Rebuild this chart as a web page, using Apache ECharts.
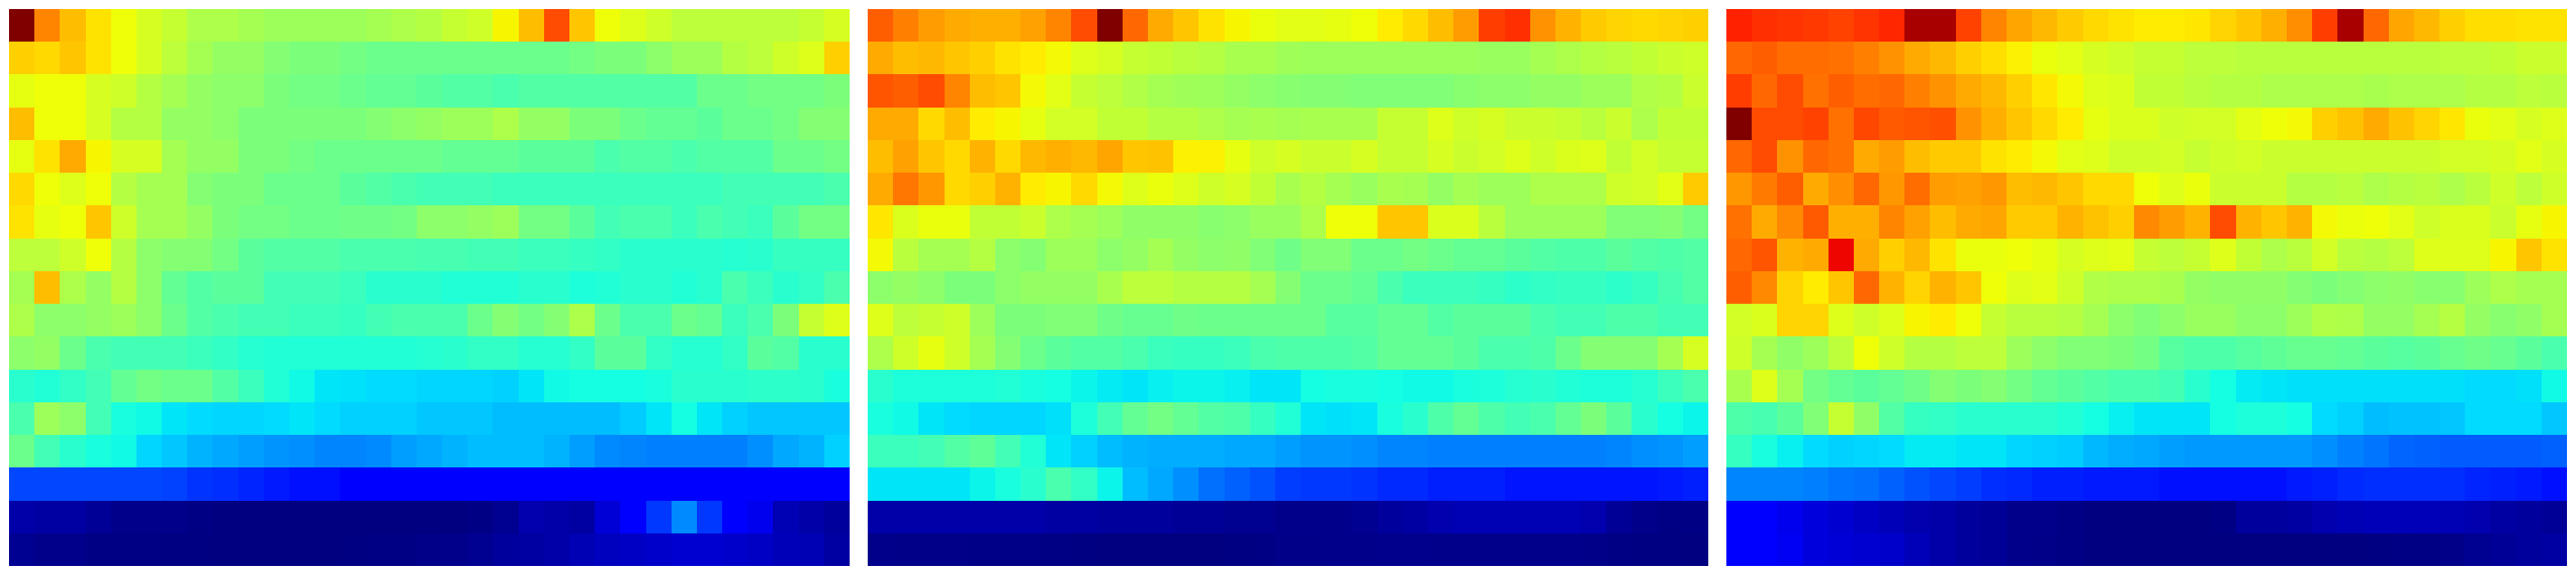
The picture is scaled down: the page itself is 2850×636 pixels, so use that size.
<!DOCTYPE html>
<html><head><meta charset="utf-8">
<style>html,body{margin:0;padding:0;background:#fff}#c{width:2850px;height:636px}</style>
<script src="https://cdn.jsdelivr.net/npm/echarts@6/dist/echarts.min.js"></script>
</head><body><div id="c"></div>
<script>
const panelA = [
[100,77,71,67,64,61,59,56,56,55,54,54,54,54,55,56,57,59,60,65,71,83,70,64,62,60,58,58,58,58,58,59,61],
[69,68,70,67,64,61,58,55,53,53,51,50,50,49,48,48,48,48,48,48,48,48,49,50,50,52,54,54,57,58,60,62,69],
[63,64,64,61,60,57,55,53,52,52,50,49,49,48,47,47,46,45,45,44,45,45,45,45,45,45,45,48,48,49,49,49,50],
[71,64,64,61,57,57,53,53,52,50,50,50,50,50,51,52,53,54,54,56,53,53,50,50,48,47,47,46,48,48,49,51,51],
[63,67,73,65,61,61,55,53,53,50,50,49,48,48,48,48,48,47,47,47,46,46,46,44,45,45,44,45,45,45,48,48,49],
[68,64,62,64,57,55,55,51,50,50,48,48,48,46,45,44,43,43,43,42,42,42,42,42,42,42,42,42,43,43,43,43,44],
[67,63,64,70,60,55,55,53,50,49,49,48,48,48.5,48.5,49,52,52,53,54,49,49,46,43,44,44,42,44,43,42,46,49,49],
[58,58,60,64,57,52,51,51,49,46,45,45,45,44,44,44,43.5,43.5,43,43,42,42,41.5,41,40,40,40,40,39.5,40,41.5,41.5,41.5],
[55,71,56,53,57,52,47,45,46,46,43,43,43,42,40,40,40,39,39,39,40,40,38.5,39,40,40,39,40,44,42,40,41,44],
[56,52,52,53,54,52,48,45,44,43,43,42,42,41.5,43,44,44,44,48,51,49,51,56,48,44,44,48,47,42,44,50,59,62],
[52,53,48,44,43,43,43,42,41,39.5,39,39,39,39,39,39,39.5,40,41,41,39.5,39.5,41,46,46,41,39.5,39.5,41,46,45,40,40],
[40,39,41,43,47,49,48,48,45,42,39,37,35,34.6,34,34,33.5,33.5,33.5,33,35,37,37.5,37.5,37.5,38,40,40,40,40.5,40.5,40,38],
[44,54,52,43,38,37,35,34,33.5,33.5,34,35,34,33,33,33,32,32,32,31,31,31,31,31,32.5,35,37.5,35,33,32,32,32,32],
[48,43,40,38,37,33.5,32,30,29,28,27,26.5,25.5,25.5,26,28,29,30,31,31,31,30,28,26,25.5,25,25,25,25,26.5,29,30,33],
[19.5,19.5,19.5,19.5,19.5,19.5,19,17.5,17,16,15,14,14,12.5,12,12,12,12,12,12,12,12,12,12,12,12,12,12,12,12,12,12,12],
[3.5,3,3,2,1,1,1,.5,0,0,0,0,0,0,0,0,0,0,.5,1.5,4,3.5,3,7.5,11,18,26,18,11,9.5,4.5,3.5,2.5],
[1.5,1,1,.5,.5,.5,.3,.2,0,0,0,0,0,.2,.5,.5,.8,1,1.5,2.5,3,3.5,4.5,5.5,6,6.5,7,7,6.5,6,5,4.5,3]
];
const panelB = [
[81,77.5,74.5,73,72.5,72.5,74,77,83,100,80,73,70,67,65,63.5,62.5,62.5,63,64,66,68,71,74.5,84.5,86,75.5,72,69.5,68.5,68,68.5,69],
[73,71,71.5,70,69,67,66,64.5,62,61,59,58.5,57.5,57,55.5,55.5,54.5,54,54,54,54,54,54,54,53.5,53.5,55,56,57,57.5,58.5,59.5,60],
[82,81,83,77,71,70,64.5,62.5,59,58,56.5,55,54.5,54,53,52,51.5,51,51,50.5,50.5,50.5,50.5,51.5,52,52,53,53,54,54,56.5,57,59.5],
[73,73,68,71,66,65,63,60.5,60.5,58.5,58.5,57,57,56,55,55.5,55,55.5,55.5,55.5,59,59,62,60,61,59.5,59.5,59,57.5,59.5,56,58.5,58.5],
[71,74,70,68,72,68,71.5,72.5,71.5,73.5,70,70.5,65.5,65.5,63,60,61,59.5,59.5,61,59,59,61,59.5,60.5,62,60,61.5,62,58.5,60.5,59,59],
[73,78.5,75,68,69,72,66,65,68,64.5,62,63.5,62,60,61,58.5,55.5,57,55,53.5,55.5,55,53,55,54,54,56,56,56,60,60.5,62.5,69.5],
[66.5,61.5,63.5,63.5,58.5,58.5,59.5,56,55,54,52.5,52.5,52.5,51.5,52,53.5,53.5,56,64,64,70,70,61.5,61.5,57.5,54,54,54,54,50.5,50.5,51,49],
[64.5,57.5,55,55,57,52,51,54,54,52,53,55,53,52,52.5,50.5,48.5,50.5,50.5,48,48,49,48,47,47,46,45,44.5,44.5,46,45,44.5,45],
[52,53,52,50,50,52,53,53,53,55.5,58,58,57,57,57,55,51,48,48,47,44,42,42,42,41.5,40.5,41,41.5,41.5,40.5,41.5,43.5,45],
[62,58,59,60,54,50,50,50.5,50.5,48.5,47.5,47.5,48.5,48,48,48,48,48,45.5,45.5,47,47,45,46,46,46,44,43,43,44.5,44.5,43,43],
[56,60,63,60,55,51,48,46,45,45,44,42,41.5,41.5,42,44,44.5,44.5,44.5,45,47,47,47,46,44,44,44.5,48,51,51,51,55,61],
[40,38.5,38.5,38.5,38.5,39,38,37.5,36.5,35.5,35,36,36.5,36.5,36,35,35,37.5,38,38,37.5,37,37,38,38.5,39.5,40,39,38.5,38.5,39.5,42,44],
[38,37,35,34,33.5,33.5,33.5,34.5,38.5,43,47,49,47,45,44.5,41.5,39,35,34.5,35,38,40,44.5,47,44.5,43,44,47,50,46,40,37.5,36.5],
[42,42,43,45,46.5,43,39,35,33,31,30,29.5,29.5,29.5,29,29,28,27,27,26.5,25.5,25.5,25,25,25,25,25,25,25,25.5,26.5,27,28],
[35,35,35,35,36.5,38,40,44,41,36.5,31,29,26.5,23.5,22,20.5,18.5,18,18,17.5,16.5,16.5,15.5,15.5,15.5,14.5,14.5,14.5,14.5,14.5,14.5,15,15.5],
[3.5,3.5,3.5,3.5,3.5,3.5,3.5,3,3,2.5,2.5,2.5,2,2,1.5,1.5,1,1,1,1.5,2.5,3,4,4.5,4.5,4.5,4.5,4.5,4,2,1,.5,.5],
[1,.8,.8,.8,.6,.6,.6,.5,.2,0,0,0,0,0,.3,.5,.8,.8,1,1,1.2,1.2,1,1,1,1,1,1,.8,.5,.3,.2,.1]
];
const panelC = [
[87.5,86,85.5,85,84,85.5,87,96.5,96.5,84,77,73.5,71.5,69.5,68,67,66,66,66.5,68.5,70,72.5,76,84.5,96.5,80,73.5,71.5,69,67.5,67.5,67,67],
[80,81,79.5,79.5,79,77.5,75.5,73,71.5,69,67.5,65.5,63.5,62.5,61,60,59,59,58,58,57.5,57.5,57.5,57.5,57.5,57.5,57.5,57.5,58,58,58.5,59.5,59.5],
[84.5,80,83,79,81,79.5,80,77.5,75.5,73,71.5,69,66.5,64.5,62,61.5,58.5,58.5,57.5,57,57,56,56,56,56,55.5,56,56,56,57,57,58,57.5],
[100,83,83,84,79,83.5,81.5,82,82.5,75.5,72.5,70,68,66,63,61.5,61.5,60,60.5,60.5,62.5,64,64.5,69,70.5,73,70.5,68.5,66.5,63.5,62.5,61,62],
[80,83,75.5,80,79,73,74.5,71,69.5,69.5,67,66,64.5,62.5,62,60,60,60.5,59,60,60.5,59.5,59.5,59.5,59.5,59.5,59.5,59.5,60.5,60.5,61,62.5,61],
[75,78,81,73,76,80,75,79.5,74.5,74,75,71,71.5,70,68,68,64,62,63.5,59.5,59.5,59.5,57,57,57.5,56,57,57.5,56,57.5,60,58,60],
[79,73,76.5,81.5,72.5,72.5,77,74,71,73,73.5,69.5,69.5,72,70.5,69,76.5,74.5,72,83,72,70,72,64.5,63.5,64,62.5,60,61.5,61.5,59.5,63,65],
[80,82,72,73,90.5,73,69,71.5,67,63.5,63.5,64,63,61,62,62.5,59,58,59,62,58.5,56,57.5,60.5,57.5,57,58,62,62,62,65,70,67],
[81,76.5,68.5,66,70,80,72,68.5,72,70,64,62,62.5,60,56.5,56,56,55.5,53,52.5,52.5,52.5,51,50,51,52,52.5,51.5,51.5,54,56,55,55],
[60.5,61.5,68.5,68.5,62,60,62,65,66,64,59,57.5,57.5,57,55,52,50.5,52,53.5,53.5,52,52,54,56.5,56,53,53,55,57,53,51.5,52.5,55],
[60,55,52.5,54,58,64,60,57,57,58,58,54,52,50.5,50.5,50,49,45.5,44.5,44.5,45.5,46.5,47.5,47.5,47,46,45.5,46,47.5,48.5,47.5,46,44],
[55.5,62,55,49,47,46,47,48.5,51,50,51,49,47,46,45,44,44,43,40,37.5,35.5,35,34.5,34.5,34.5,34.5,34.5,34.5,34.5,34,34,34.5,37],
[44.5,43.5,46,50.5,59,52.5,45,41.5,41,40,40,40,40,39,37.5,36,35,35,35,37.5,38.5,38.5,37.5,34,33,31,31.5,31.5,32,34,34,34,32],
[41.5,38,36,34,33,33.5,34,35.5,35.5,35,35,33.5,33,32.5,30.5,29.5,29,28,27.5,27.5,27.5,27.5,27.5,26.5,25,24,22.5,22,21.5,21.5,21.5,21.5,22],
[25.5,25.5,25.5,25,24,23.5,22,20.5,19.5,18.5,17,16.5,15.5,15.5,15,15,15,14,14,14,14,14,15,15.5,16.5,17,17,17,17,16,15.5,15,14],
[11.5,11.5,9.5,8,7,6,5,4,3.5,2.5,2,1,1,.5,0,0,0,0,0,.5,2.5,2.5,3,4,4.5,5,5,5,4.5,4,3,2.5,2],
[12,11,10,8,7.5,7,6.5,5,3.5,2.5,2,1,.8,.5,0,0,0,0,0,0,0,0,0,0,0,.2,.4,.5,.8,1.5,2,2.5,3]
];
const columns = panelA[0].map((_, i) => String(i));
const rows = panelA.map((_, i) => String(i));
const panels = [panelA, panelB, panelC];
const panelLeft = [10, 960, 1910];

function ramp(v, pts) {
  for (let i = 1; i < pts.length; i++) {
    if (v <= pts[i][0]) {
      const a = pts[i-1], b = pts[i];
      return a[1] + (b[1]-a[1]) * (v-a[0]) / (b[0]-a[0]);
    }
  }
  return pts[pts.length-1][1];
}
const jetColors = [];
for (let i = 0; i <= 200; i++) {
  const v = i / 200;
  const r = ramp(v, [[0,0],[.35,0],[.66,1],[.89,1],[1,.5]]);
  const g = ramp(v, [[0,0],[.125,0],[.375,1],[.64,1],[.91,0],[1,0]]);
  const b = ramp(v, [[0,.5],[.11,1],[.34,1],[.65,0],[1,0]]);
  jetColors.push('rgb(' + [r,g,b].map(c => Math.round(c*255)).join(',') + ')');
}
function renderCell(params, api) {
  const c = api.coord([api.value(0), api.value(1)]);
  const s = api.size([1, 1]);
  const x0 = Math.round(c[0] - s[0] / 2 + 1e-6), x1 = Math.round(c[0] + s[0] / 2 + 1e-6);
  const y0 = Math.round(c[1] - s[1] / 2 + 1e-6), y1 = Math.round(c[1] + s[1] / 2 + 1e-6);
  return {type:'rect', shape:{x:x0, y:y0, width:x1-x0, height:y1-y0},
          style:{fill:api.visual('color')}, silent:true};
}
const chart = echarts.init(document.getElementById('c'), null, {renderer:'canvas'});
chart.setOption({
  animation:false,
  backgroundColor:'#fff',
  visualMap:{show:false,type:'continuous',min:0,max:100,dimension:2,seriesIndex:[0,1,2],inRange:{color:jetColors}},
  grid:panelLeft.map(l => ({left:l,top:10,width:930,height:616,containLabel:false})),
  xAxis:panelLeft.map((_,i) => ({type:'category',gridIndex:i,data:columns,show:false})),
  yAxis:panelLeft.map((_,i) => ({type:'category',gridIndex:i,data:rows,inverse:true,show:false})),
  series:panels.map((p,i) => ({
    type:'custom',xAxisIndex:i,yAxisIndex:i,
    renderItem:renderCell,
    encode:{x:0,y:1},
    clip:false,
    progressive:0,
    data:p.flatMap((row,y) => row.map((v,x) => [x,y,v]))
  }))
});
</script></body></html>
